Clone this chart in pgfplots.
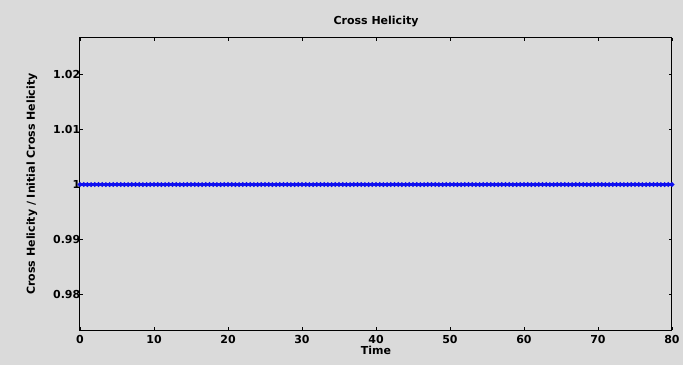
\documentclass[border=0pt]{standalone}
\usepackage{pgfplots}
\pgfplotsset{compat=1.18}
\usepackage{fontspec}
\setmainfont{DejaVu Sans}
\definecolor{bg}{RGB}{218,218,218}
\definecolor{lineblue}{RGB}{15,15,240}
\begin{document}
\begin{tikzpicture}
\fill[bg] (-80pt,-35pt) rectangle (603pt,330pt);
\useasboundingbox (-80pt,-35pt) rectangle (603pt,330pt);
\begin{axis}[
  at={(0pt,0pt)}, anchor=south west,
  scale only axis, width=592pt, height=292pt,
  xmin=0, xmax=80, ymin=0.9735, ymax=1.0267,
  xtick={0,10,20,30,40,50,60,70,80},
  ytick={0.98,0.99,1,1.01,1.02},
  yticklabels={0.98,0.99,1,1.01,1.02},
  tick align=inside, tick pos=both,
  major tick length=3pt,
  axis line style={black, line width=1pt},
  every tick/.style={black, line width=0.7pt},
  /pgf/number format/assume math mode=true,
  tick label style={font=\bfseries\fontsize{11}{12}\selectfont},
  yticklabel style={inner sep=0.5pt, xshift=1pt},
  xticklabel style={inner sep=1pt, yshift=-4pt},
  title={Cross Helicity},
  title style={font=\bfseries\fontsize{11}{12}\selectfont, yshift=2pt},
  xlabel={Time},
  xlabel style={font=\bfseries\fontsize{11}{12}\selectfont, inner sep=1pt, yshift=0pt},
  ylabel={Cross Helicity / Initial Cross Helicity},
  ylabel style={font=\bfseries\fontsize{11}{12}\selectfont, yshift=12pt},
  axis background/.style={fill=bg},
]
\addplot[lineblue, line width=2.6pt, mark=*, mark size=0.8pt, mark options={fill=lineblue!65!black, draw=none}] table {
x y
0 1
0.5 1
1 1
1.5 1
2 1
2.5 1
3 1
3.5 1
4 1
4.5 1
5 1
5.5 1
6 1
6.5 1
7 1
7.5 1
8 1
8.5 1
9 1
9.5 1
10 1
10.5 1
11 1
11.5 1
12 1
12.5 1
13 1
13.5 1
14 1
14.5 1
15 1
15.5 1
16 1
16.5 1
17 1
17.5 1
18 1
18.5 1
19 1
19.5 1
20 1
20.5 1
21 1
21.5 1
22 1
22.5 1
23 1
23.5 1
24 1
24.5 1
25 1
25.5 1
26 1
26.5 1
27 1
27.5 1
28 1
28.5 1
29 1
29.5 1
30 1
30.5 1
31 1
31.5 1
32 1
32.5 1
33 1
33.5 1
34 1
34.5 1
35 1
35.5 1
36 1
36.5 1
37 1
37.5 1
38 1
38.5 1
39 1
39.5 1
40 1
40.5 1
41 1
41.5 1
42 1
42.5 1
43 1
43.5 1
44 1
44.5 1
45 1
45.5 1
46 1
46.5 1
47 1
47.5 1
48 1
48.5 1
49 1
49.5 1
50 1
50.5 1
51 1
51.5 1
52 1
52.5 1
53 1
53.5 1
54 1
54.5 1
55 1
55.5 1
56 1
56.5 1
57 1
57.5 1
58 1
58.5 1
59 1
59.5 1
60 1
60.5 1
61 1
61.5 1
62 1
62.5 1
63 1
63.5 1
64 1
64.5 1
65 1
65.5 1
66 1
66.5 1
67 1
67.5 1
68 1
68.5 1
69 1
69.5 1
70 1
70.5 1
71 1
71.5 1
72 1
72.5 1
73 1
73.5 1
74 1
74.5 1
75 1
75.5 1
76 1
76.5 1
77 1
77.5 1
78 1
78.5 1
79 1
79.5 1
80 1
};
\end{axis}
\end{tikzpicture}
\end{document}
